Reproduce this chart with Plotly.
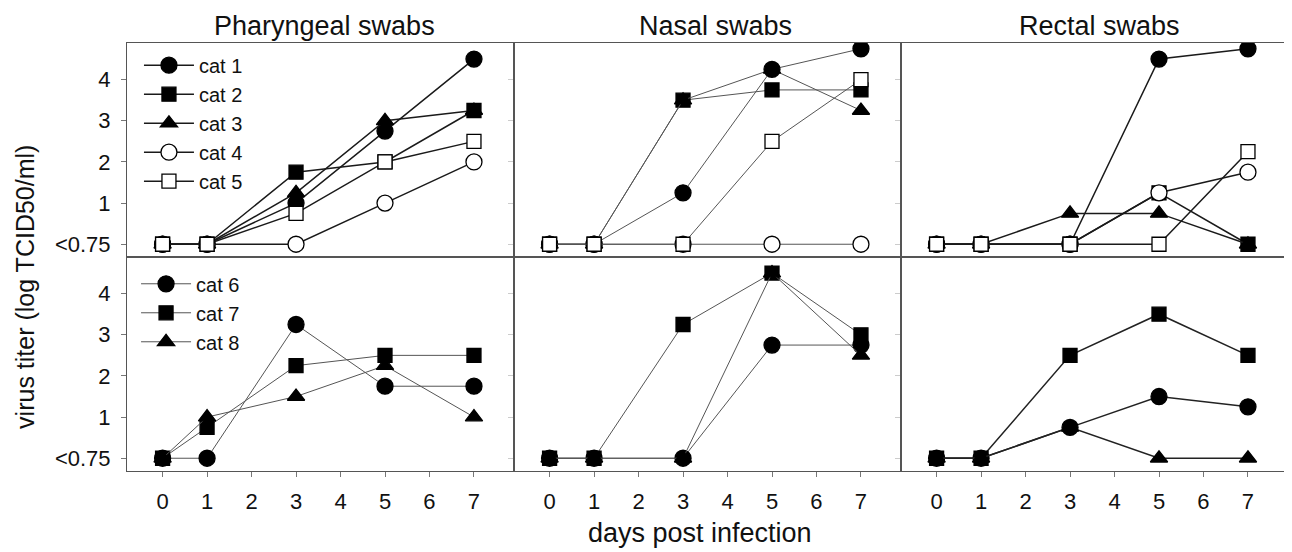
import plotly.graph_objects as go
from plotly.subplots import make_subplots

# ---------------- data ----------------
days = [0, 1, 3, 5, 7]
panel_titles = ["Pharyngeal swabs", "Nasal swabs", "Rectal swabs"]
y_tick_vals = [0, 1, 2, 3, 4]
y_tick_text = ["<0.75", "1", "2", "3", "4"]
x_tick_vals = [0, 1, 2, 3, 4, 5, 6, 7]

cats_top = ["cat 1", "cat 2", "cat 3", "cat 4", "cat 5"]
cats_bottom = ["cat 6", "cat 7", "cat 8"]

# value 0 stands for "<0.75"
pharyngeal_top = [[0, 0, 1.0, 2.75, 4.5],
                  [0, 0, 1.75, 2.0, 3.25],
                  [0, 0, 1.25, 3.0, 3.25],
                  [0, 0, 0, 1.0, 2.0],
                  [0, 0, 0.75, 2.0, 2.5]]
nasal_top = [[0, 0, 1.25, 4.25, 4.75],
             [0, 0, 3.5, 3.75, 3.75],
             [0, 0, 3.5, 4.25, 3.25],
             [0, 0, 0, 0, 0],
             [0, 0, 0, 2.5, 4.0]]
rectal_top = [[0, 0, 0, 4.5, 4.75],
              [0, 0, 0, 1.25, 0],
              [0, 0, 0.75, 0.75, 0],
              [0, 0, 0, 1.25, 1.75],
              [0, 0, 0, 0, 2.25]]
pharyngeal_bottom = [[0, 0, 3.25, 1.75, 1.75],
                     [0, 0.75, 2.25, 2.5, 2.5],
                     [0, 1.0, 1.5, 2.25, 1.0]]
nasal_bottom = [[0, 0, 0, 2.75, 2.75],
                [0, 0, 3.25, 4.5, 3.0],
                [0, 0, 0, 4.5, 2.5]]
rectal_bottom = [[0, 0, 0.75, 1.5, 1.25],
                 [0, 0, 2.5, 3.5, 2.5],
                 [0, 0, 0.75, 0, 0]]

# ---------------- styles ----------------
FONT = "Liberation Sans, Arial, sans-serif"
TXT = "#111111"
marker_top = [("circle", "black", 16), ("square", "black", 14), ("triangle-up", "black", 15),
              ("circle", "white", 16), ("square", "white", 14)]
marker_bottom = [("circle", "black", 16), ("square", "black", 14), ("triangle-up", "black", 15)]
line_style = {
    (1, 1): ("#1a1a1a", 1.5), (1, 2): ("#555555", 1.0), (1, 3): ("#1a1a1a", 1.5),
    (2, 1): ("#555555", 1.0), (2, 2): ("#555555", 1.0), (2, 3): ("#222222", 1.5),
}

fig = make_subplots(rows=2, cols=3, horizontal_spacing=0, vertical_spacing=0)

panels = {
    (1, 1): pharyngeal_top, (1, 2): nasal_top, (1, 3): rectal_top,
    (2, 1): pharyngeal_bottom, (2, 2): nasal_bottom, (2, 3): rectal_bottom,
}

for (r, c), series in panels.items():
    names = cats_top if r == 1 else cats_bottom
    mks = marker_top if r == 1 else marker_bottom
    lc, lw = line_style[(r, c)]
    for i, vals in enumerate(series):
        sym, fill, size = mks[i]
        fig.add_trace(go.Scatter(
            x=days, y=vals, mode="lines+markers", name=names[i],
            line=dict(color=lc, width=lw),
            marker=dict(symbol=sym, color=fill, size=size,
                        line=dict(color="black", width=1.3)),
            showlegend=(c == 1),
            legend="legend" if r == 1 else "legend2",
            legendgroup=names[i],
        ), row=r, col=c)

for r in (1, 2):
    for c in (1, 2, 3):
        fig.update_xaxes(row=r, col=c, range=[-0.8, 7.9], showline=True, mirror=True,
                         linecolor="#555555", linewidth=1, showgrid=False, zeroline=False,
                         tickvals=x_tick_vals if r == 2 else [],
                         ticks="outside" if r == 2 else "", ticklen=5, tickcolor="#777777",
                         showticklabels=(r == 2), ticklabelstandoff=6,
                         tickfont=dict(family=FONT, size=22, color=TXT))
        fig.update_yaxes(row=r, col=c, range=[-0.31, 4.89], showline=True, mirror=True,
                         linecolor="#555555", linewidth=1, showgrid=False, zeroline=False,
                         tickvals=y_tick_vals, ticktext=y_tick_text,
                         ticks="outside", ticklen=5,
                         tickcolor="#777777" if c == 1 else "#cccccc",
                         showticklabels=(c == 1), ticklabelstandoff=6,
                         tickfont=dict(family=FONT, size=22, color=TXT))

title_x = [0.1705, 0.5073, 0.838]
annotations = []
for i, t in enumerate(panel_titles):
    annotations.append(dict(text=t, xref="paper", yref="paper", x=title_x[i], y=1.0397,
                            xanchor="center", yanchor="middle", showarrow=False,
                            font=dict(family=FONT, size=27, color=TXT)))
annotations.append(dict(text="days post infection", xref="paper", yref="paper", x=0.4935, y=-0.145,
                        xanchor="center", yanchor="middle", showarrow=False,
                        font=dict(family=FONT, size=27, color=TXT)))
annotations.append(dict(text="virus titer (log TCID50/ml)", xref="paper", yref="paper",
                        x=-0.0879, y=0.43, xanchor="center", yanchor="middle", textangle=-90,
                        showarrow=False, font=dict(family=FONT, size=25, color=TXT)))

# the page body adds an 8 px offset, so the figure is 8 px smaller than the window
fig.update_layout(
    width=1284, height=544,
    margin=dict(l=119, r=4, t=35, b=81),
    paper_bgcolor="white", plot_bgcolor="white",
    font=dict(family=FONT, color=TXT),
    annotations=annotations,
    legend=dict(x=0.0103, y=0.9937, xanchor="left", yanchor="top", bgcolor="rgba(0,0,0,0)",
                font=dict(family=FONT, size=20, color=TXT), tracegroupgap=0, itemwidth=50),
    legend2=dict(x=0.0078, y=0.483, xanchor="left", yanchor="top", bgcolor="rgba(0,0,0,0)",
                 font=dict(family=FONT, size=20, color=TXT), tracegroupgap=0, itemwidth=50),
)

fig.write_html("out.html")
